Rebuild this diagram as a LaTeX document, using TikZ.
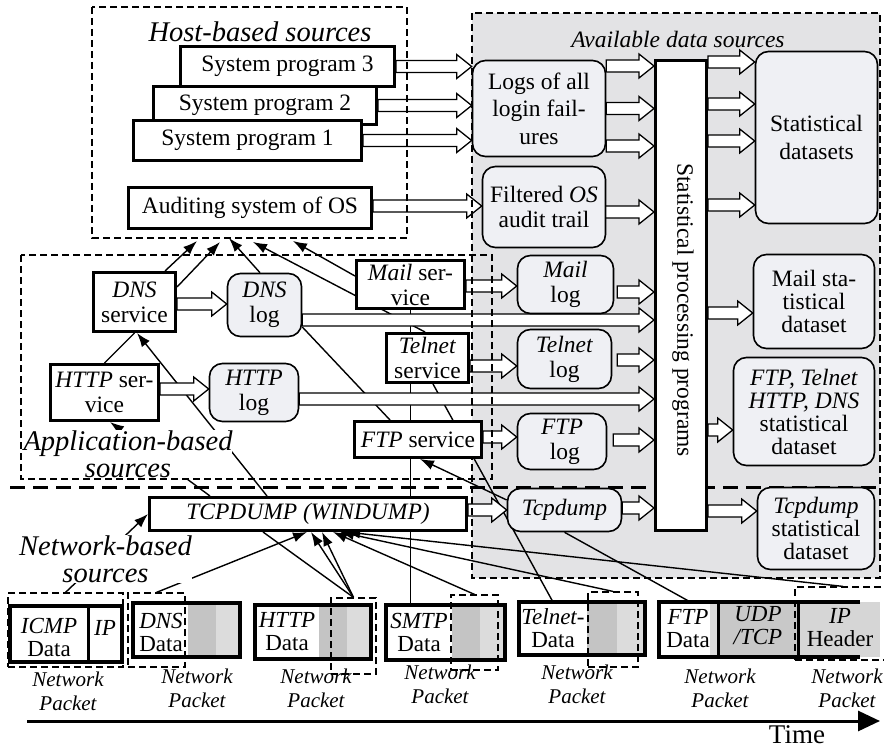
\documentclass[tikz,border=0pt]{standalone}
\usepackage{fontspec}
\setmainfont{Liberation Serif}
\usepackage{tikz}
\usetikzlibrary{arrows.meta, calc}

\definecolor{regiongray}{RGB}{227,227,229}
\definecolor{boxfill}{RGB}{239,240,244}
\definecolor{celldark}{RGB}{196,196,196}
\definecolor{celllight}{RGB}{220,220,220}
\definecolor{udpgray}{RGB}{200,200,200}
\definecolor{hdrgray}{RGB}{214,214,214}

\newcommand{\mainsize}{\fontsize{23.5}{25}\selectfont}
\newcommand{\widesize}{\fontsize{23.5}{27.5}\selectfont}
\newcommand{\dssize}{\fontsize{23.5}{23}\selectfont}
\newcommand{\titlesize}{\fontsize{28.5}{27}\selectfont}
\newcommand{\pktsize}{\fontsize{21}{24}\selectfont}
\newcommand{\timesize}{\fontsize{27}{30}\selectfont}

\pgfdeclarelayer{bg}
\pgfdeclarelayer{mid}
\pgfsetlayers{bg,mid,main}

\begin{document}
\begin{tikzpicture}[
  x=1pt, y=-1pt,
  % Boxes
  progbox/.style={draw, line width=3pt, fill=white, align=center, inner sep=0pt, font=\mainsize},
  logbox/.style={draw, line width=1.6pt, rounded corners=13pt, fill=boxfill, align=center, inner sep=0pt, font=\mainsize},
  srcframe/.style={line width=1.2pt, dash pattern=on 7pt off 4pt},
  srctitle/.style={font=\titlesize\itshape, align=center},
  % Connectors
  link/.style={line width=1.4pt},
  linkarrow/.style={link, -{Latex[length=14pt, width=10pt]}},
  fat/.style={draw, fill=white, line width=1.3pt, line join=miter,
    to path={let \p1=(\tikztostart), \p2=(\tikztotarget) in
      (\x1,\y1+6pt) -- (\x2-15pt,\y1+6pt) -- (\x2-15pt,\y1+12pt) -- (\x2,\y1)
      -- (\x2-15pt,\y1-12pt) -- (\x2-15pt,\y1-6pt) -- (\x1,\y1-6pt) -- cycle}},
  % Packets
  pktbox/.style={draw, line width=3.5pt, inner sep=0pt},
  pktsel/.style={draw, line width=1.2pt, dash pattern=on 7pt off 4pt, inner sep=0pt},
  pkttext/.style={font=\fontsize{23}{23}\selectfont, align=center, inner sep=0pt},
  pktlabel/.style={font=\pktsize\itshape, align=center, inner sep=0pt}
]
\useasboundingbox (0,0) rectangle (884,749);

  % Host-based sources
  \node[progbox, minimum width=214pt, minimum height=40pt] (sp3) at (287.5,66.5) {System program 3};
  \node[progbox, minimum width=223pt, minimum height=38pt] (sp2) at (265,105.5) {System program 2};
  \node[progbox, minimum width=228pt, minimum height=40pt] (sp1) at (247.5,140.5) {System program 1};
  \node[progbox, minimum width=243pt, minimum height=41pt] (audit) at (250,208) {Auditing system of OS};
  \node[srctitle] (hosttitle) at (260,32) {Host-based sources};

  % Application-based sources
  \node[progbox, minimum width=82pt, minimum height=59pt] (dnssrv) at (134.5,302) {\textit{DNS}\\service};
  \node[logbox, minimum width=74pt, minimum height=63pt] (dnslog) at (264.5,305) {\textit{DNS}\\log};
  \node[progbox, minimum width=108pt, minimum height=56pt] (httpsrv) at (104.5,392.5) {\textit{HTTP} ser-\\vice};
  \node[logbox, minimum width=89pt, minimum height=58pt] (httplog) at (254,392.5) {\textit{HTTP}\\log};
  \node[progbox, minimum width=108pt, minimum height=48pt] (mailsrv) at (410.5,284.5) {\textit{Mail} ser-\\vice};
  \node[progbox, minimum width=82pt, minimum height=49pt] (telsrv) at (427.5,358) {\textit{Telnet}\\service};
  \node[progbox, minimum width=127pt, minimum height=36pt] (ftpsrv) at (418,439.5) {\textit{FTP} service};
  \node[srctitle, fill=white, inner sep=0pt] (apptitle) at (128,454) {Application-based\\sources};

  % Available data sources
  \node[logbox, font=\widesize, minimum width=133pt, minimum height=96pt] (logs) at (539,108.5) {Logs of all\\login fail-\\ures};
  \node[logbox, minimum width=123pt, minimum height=81pt] (filt) at (544,207) {Filtered \textit{OS}\\audit trail};
  \node[progbox, minimum width=51pt, minimum height=470pt] (proc) at (681,295.5) {};
  \node[rotate=-90, font=\mainsize, inner sep=0pt] (proclabel) at ([xshift=2pt,yshift=-14.5pt]proc.center) {Statistical processing programs};
  \node[logbox, font=\widesize, minimum width=122pt, minimum height=172pt] (statds) at (816.5,137.5) {Statistical\\datasets};
  \node[logbox, minimum width=96pt, minimum height=58pt] (maillog) at (565.5,284.5) {\textit{Mail}\\log};
  \node[logbox, minimum width=94pt, minimum height=59pt] (telnetlog) at (564.5,359) {\textit{Telnet}\\log};
  \node[logbox, minimum width=89pt, minimum height=56pt] (ftplog) at (562,441.5) {\textit{FTP}\\\ log};
  \node[logbox, font=\dssize, minimum width=121pt, minimum height=94pt] (mailds) at (814,301.5) {Mail sta-\\tistical\\dataset};
  \node[logbox, font=\dssize, minimum width=141pt, minimum height=108pt] (ftpds) at (804,411.5) {\textit{FTP, Telnet}\\\textit{HTTP, DNS}\\statistical\\dataset};
  \node[logbox, minimum width=114pt, minimum height=43pt] (tcpd) at (564.5,510) {\textit{Tcpdump}};
  \node[logbox, font=\dssize, minimum width=117pt, minimum height=82pt] (tcpds) at (816,528.5) {\textit{Tcpdump}\\statistical\\dataset};
  \node[font=\mainsize\itshape] (availtitle) at (678,39) {Available data sources};

  % Network-based sources
  \node[progbox, minimum width=317pt, minimum height=33pt] (tcpdump) at (308,514) {\textit{TCPDUMP (WINDUMP)}};
  \node[srctitle, fill=white, inner sep=0pt] (nettitle) at (105.5,559) {Network-based\\sources};

  % Packet cells
  \fill[celldark] (188,603) rectangle (216,657);
  \fill[celllight] (216,603) rectangle (240,657);
  \fill[celldark] (319,605) rectangle (347,659);
  \fill[celllight] (347,605) rectangle (371,659);
  \fill[celldark] (452,605) rectangle (480,660);
  \fill[celllight] (480,605) rectangle (505,660);
  \fill[celldark] (587,602) rectangle (617,655);
  \fill[celllight] (617,602) rectangle (645,655);
  \fill[celllight] (710,602) rectangle (718,657);
  \fill[udpgray] (718,602) rectangle (798,657);
  \fill[hdrgray] (798,602) rectangle (880,657);

  % Packets
  \node[pktbox, minimum width=112pt, minimum height=56pt] (icmppkt) at (66,634) {};
  \draw[line width=3pt] ([xshift=22pt]icmppkt.north) -- ([xshift=22pt]icmppkt.south);
  \node[pktbox, minimum width=107pt, minimum height=54pt] (dnspkt) at (186.5,630) {};
  \node[pktbox, minimum width=116pt, minimum height=54pt] (httppkt) at (313,632) {};
  \node[pktbox, minimum width=119pt, minimum height=55pt] (smtppkt) at (445.5,632.5) {};
  \node[pktbox, minimum width=126pt, minimum height=53pt] (telpkt) at (582,628.5) {};
  \node[inner sep=0pt, minimum width=201pt, minimum height=55pt] (ftppkt) at (759.5,629.5) {};
  \draw[line width=3.5pt] (ftppkt.north east) -- (ftppkt.north west) -- (ftppkt.south west) -- (ftppkt.south east);
  \draw[line width=3pt] ([xshift=-41.5pt]ftppkt.north) -- ([xshift=-41.5pt]ftppkt.south);
  \draw[line width=3pt] ([xshift=38.5pt]ftppkt.north) -- ([xshift=38.5pt]ftppkt.south);

  \node[pkttext] (icmptext) at (49,637) {\textit{ICMP}\\Data};
  \node[pkttext] (icmpip) at (105,628) {\textit{IP}};
  \node[pkttext] (dnstext) at (161,632) {\textit{DNS}\\Data};
  \node[pkttext] (httptext) at (287,632) {\textit{HTTP}\\Data};
  \node[pkttext] (smtptext) at (419,632) {\textit{SMTP}\\Data};
  \node[pkttext] (teltext) at (553,628) {\textit{Telnet-}\\Data};
  \node[pkttext] (ftptext) at (688,629) {\textit{FTP}\\Data};
  \node[pkttext] (udptext) at (758,626) {\textit{UDP}\\\textit{/TCP}};
  \node[pkttext] (iptext) at (840,628) {\textit{IP}\\Header};

  % Selected parts of packets
  \node[pktsel, minimum width=115pt, minimum height=74pt] (icmpsel) at (65.5,630) {};
  \node[pktsel, minimum width=57pt, minimum height=74pt] (dnssel) at (156.5,630) {};
  \node[pktsel, minimum width=45pt, minimum height=76pt] (httpsel) at (353.5,636) {};
  \node[pktsel, minimum width=47pt, minimum height=75pt] (smtpsel) at (474.5,632.5) {};
  \node[pktsel, minimum width=50pt, minimum height=75pt] (telsel) at (613,629.5) {};
  \node[pktsel, minimum width=100pt, minimum height=73pt] (ipsel) at (845,623.5) {};

  % Packet labels
  \node[pktlabel] (lbl1) at (68,691) {Network\\Packet};
  \node[pktlabel] (lbl2) at (197,688) {Network\\Packet};
  \node[pktlabel] (lbl3) at (316,688) {Network\\Packet};
  \node[pktlabel] (lbl4) at (440,684) {Network\\Packet};
  \node[pktlabel] (lbl5) at (577,684) {Network\\Packet};
  \node[pktlabel] (lbl6) at (720,688) {Network\\Packet};
  \node[pktlabel] (lbl7) at (847,688) {Network\\Packet};

  % Time axis
  \coordinate (tstart) at (27,721);
  \coordinate (tend) at (880,721);
  \draw[line width=3pt, -{Triangle[length=22pt, width=20pt]}] (tstart) -- (tend);
  \node[font=\timesize, inner sep=0pt] (timelabel) at (797,735) {Time};

  \begin{pgfonlayer}{bg}
    \fill[regiongray] (472,13) rectangle (880,578);
    \coordinate (sepL) at (10,487);
    \coordinate (sepR) at (884,487);
    \draw[line width=3pt, dash pattern=on 15pt off 8pt] (sepL) -- (sepR);
  \end{pgfonlayer}

  \begin{pgfonlayer}{mid}
    % Links to the auditing system
    \draw[linkarrow] ([xshift=30.5pt]dnssrv.north) -- ([xshift=-53pt,yshift=-11pt]audit.south);
    \draw[linkarrow] ([yshift=15pt]dnssrv.east) -- ([xshift=-30pt,yshift=-12pt]audit.south);
    \draw[linkarrow] ([xshift=-4.5pt]dnslog.north) -- ([xshift=-21pt,yshift=-8pt]audit.south);
    \draw[linkarrow] ([xshift=-2.5pt]telsrv.north) -- ([xshift=3pt,yshift=-12pt]audit.south);
    \draw[linkarrow] ([yshift=8.5pt]mailsrv.west) -- ([xshift=43pt,yshift=-11pt]audit.south);

    % Links between services and capture
    \draw[link] (httpsrv.north) -- (dnssrv.south);
    \draw[linkarrow] ([xshift=-41pt]tcpdump.north) -- ([xshift=2.5pt]dnssrv.south);
    \draw[linkarrow] ([xshift=-98pt]tcpdump.north) -- ([xshift=5.5pt]httpsrv.south);
    \draw[link] ([yshift=-22pt]dnslog.east) -- ([xshift=-28pt]ftpsrv.north);
    \draw[link] (mailsrv.south) -- (mailsrv.south |- smtppkt.north);
    \draw[link] ([xshift=5.5pt]telsrv.south) -- ([xshift=-30pt]telpkt.north);
    \draw[linkarrow] ([yshift=10pt]tcpd.west) -- ([xshift=2pt]ftpsrv.south);
    \draw[link] (tcpd.south) -- ([xshift=-69.5pt]ftppkt.north);

    % Links from packets
    \draw[linkarrow] (icmpsel.north) -- (tcpdump.west);
    \draw[linkarrow] (dnssel.north) -- ([xshift=-1pt]tcpdump.south);
    \draw[link] (httpsel.north) -- ([xshift=-45pt]tcpdump.south);
    \draw[linkarrow] (httpsel.north) -- ([xshift=3pt]tcpdump.south);
    \draw[linkarrow] (httpsel.north) -- ([xshift=14pt]tcpdump.south);
    \draw[linkarrow] (smtpsel.north) -- ([xshift=25pt]tcpdump.south);
    \draw[linkarrow] (telsel.north) -- ([xshift=32pt]tcpdump.south);
    \draw[linkarrow] ([xshift=-2pt]ipsel.north) -- ([xshift=38pt]tcpdump.south);

    % Data flow arrows
    \draw[fat] (sp3.east) to (logs.west);
    \draw[fat] (sp2.east) to (logs.west);
    \draw[fat] (sp1.east) to (logs.west);
    \draw[fat] ([yshift=2pt]audit.east) to (filt.west);
    \draw[fat] ([yshift=42.5pt]logs.east) to (proc.west);
    \draw[fat] (logs.east) to (proc.west);
    \draw[fat] ([yshift=-37.5pt]logs.east) to (proc.west);
    \draw[fat] ([xshift=-5pt,yshift=-5pt]filt.east) to (proc.west);
    \draw[fat] ([yshift=233.5pt]proc.east) to (statds.west);
    \draw[fat] ([yshift=191.5pt]proc.east) to (statds.west);
    \draw[fat] ([yshift=154.5pt]proc.east) to (statds.west);
    \draw[fat] ([yshift=90.5pt]proc.east) to (statds.west);
    \draw[fat] ([yshift=-1.5pt]mailsrv.east) to (maillog.west);
    \draw[fat] ([xshift=3pt,yshift=-7.5pt]maillog.east) to (proc.west);
    \draw[fat] ([yshift=-15pt]dnslog.east) to (proc.west);
    \draw[fat] ([yshift=-8pt]telsrv.east) to (telnetlog.west);
    \draw[fat] ([xshift=5pt,yshift=-1pt]telnetlog.east) to (proc.west);
    \draw[fat] ([yshift=-6.5pt]httplog.east) to (proc.west);
    \draw[fat] ([yshift=2.5pt]ftpsrv.east) to (ftplog.west);
    \draw[fat] ([xshift=6pt,yshift=1.5pt]ftplog.east) to (proc.west);
    \draw[fat] ([yshift=-17.5pt]proc.east) to (mailds.west);
    \draw[fat] ([yshift=-134.5pt]proc.east) to (ftpds.west);
    \draw[fat] ([yshift=-2pt]dnssrv.east) to (dnslog.west);
    \draw[fat] ([yshift=3.5pt]httpsrv.east) to (httplog.west);
    \draw[fat] ([yshift=4pt]tcpdump.east) to (tcpd.west);
    \draw[fat] ([yshift=2pt]tcpd.east) to (proc.west);
    \draw[fat] ([yshift=-215.5pt]proc.east) to (tcpds.west);

    % Source frames
    \draw[srcframe] (92,7) rectangle (407,238);
    \draw[srcframe] (21,255) rectangle (492,479);
    \draw[srcframe] (472,13) rectangle (880,578);
  \end{pgfonlayer}

\end{tikzpicture}
\end{document}
